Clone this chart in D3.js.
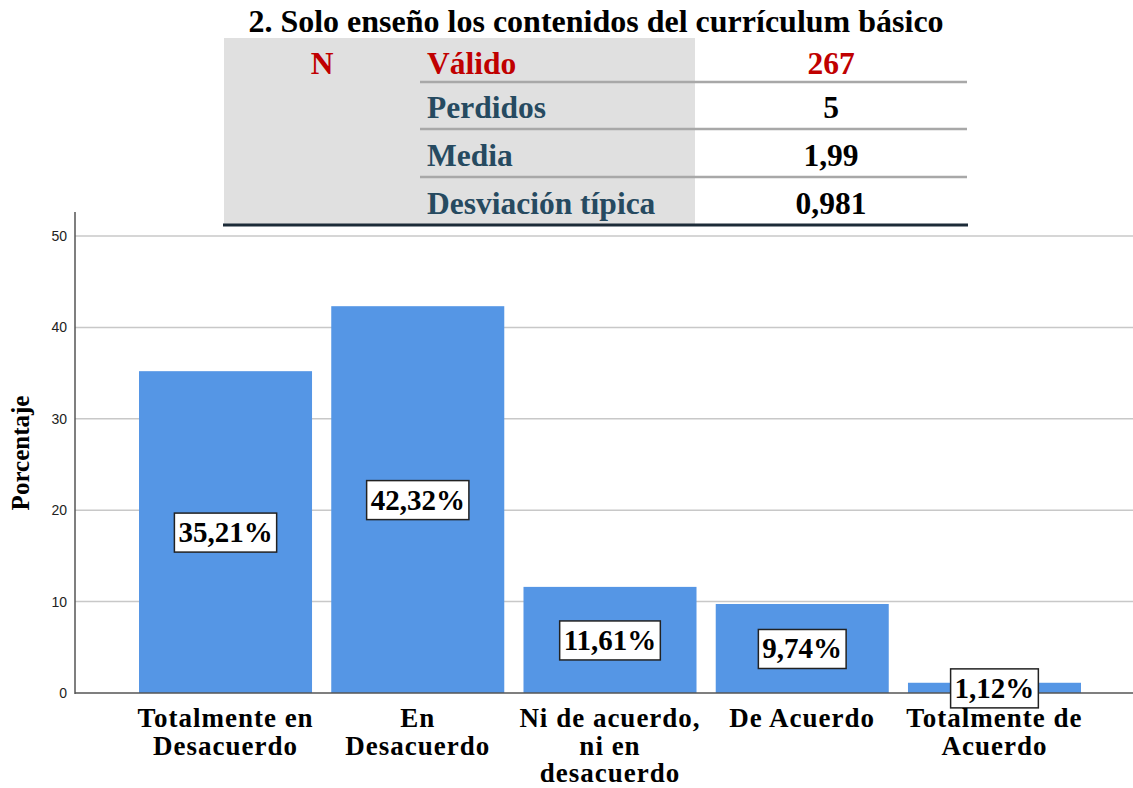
<!DOCTYPE html>
<html><head><meta charset="utf-8">
<script src="https://cdn.jsdelivr.net/npm/d3@7/dist/d3.min.js"></script>
<style>body{margin:0;background:#fff}svg{display:block}</style>
</head><body>
<svg id="c" width="1133" height="788"></svg>
<script>
const title = "2. Solo enseño los contenidos del currículum básico";
const categories = [["Totalmente en","Desacuerdo"],["En","Desacuerdo"],["Ni de acuerdo,","ni en","desacuerdo"],["De Acuerdo"],["Totalmente de","Acuerdo"]];
const values = [35.21, 42.32, 11.61, 9.74, 1.12];
const valueLabels = ["35,21%","42,32%","11,61%","9,74%","1,12%"];
const yTicks = [0,10,20,30,40,50];
const statLabels = ["Válido","Perdidos","Media","Desviación típica"];
const statValues = ["267","5","1,99","0,981"];

const svg = d3.select("#c");
const serif = "'Liberation Serif','Times New Roman',serif";
const sans = "'Liberation Sans',Arial,sans-serif";

// title
svg.append("text").attr("x",596).attr("y",32).attr("text-anchor","middle")
  .attr("font-family",serif).attr("font-weight","bold").attr("font-size",32).text(title);

// table
svg.append("rect").attr("x",224).attr("y",38).attr("width",471).attr("height",187).attr("fill","#e0e0e0");
const rowY = [74,118,166,214];
const sepY = [82,129,177];
sepY.forEach(y=>svg.append("line").attr("x1",420).attr("x2",967).attr("y1",y).attr("y2",y).attr("stroke","#a8a8a8").attr("stroke-width",2.5));
svg.append("line").attr("x1",223).attr("x2",968).attr("y1",225).attr("y2",225).attr("stroke","#1c2b38").attr("stroke-width",3);
svg.append("text").attr("x",322).attr("y",rowY[0]).attr("text-anchor","middle").attr("font-family",serif)
  .attr("font-weight","bold").attr("font-size",31.5).attr("fill","#c00000").text("N");
statLabels.forEach((t,i)=>{
  svg.append("text").attr("x",427).attr("y",rowY[i]).attr("font-family",serif).attr("font-weight","bold")
    .attr("font-size",31.5).attr("fill",i===0?"#c00000":"#264a60").text(t);
  svg.append("text").attr("x",831).attr("y",rowY[i]).attr("text-anchor","middle").attr("font-family",serif).attr("font-weight","bold")
    .attr("font-size",31.5).attr("fill",i===0?"#c00000":"#000").text(statValues[i]);
});

// chart
const y = d3.scaleLinear().domain([0,50]).range([693,236]);
const x = d3.scaleBand().domain(d3.range(values.length)).range([129.4,1090.6]).paddingInner(0.1).paddingOuter(0.05);

const g = svg.append("g");
yTicks.forEach(t=>{
  if(t>0) g.append("line").attr("x1",75).attr("x2",1133).attr("y1",y(t)).attr("y2",y(t)).attr("stroke","#c8c8c8").attr("stroke-width",1.5);
});
const yAxis = d3.axisLeft(y).tickValues(yTicks).tickSize(0).tickPadding(8);
const ya = svg.append("g").attr("transform","translate(75,0)").call(yAxis);
ya.select(".domain").remove();
ya.selectAll("text").attr("font-family",sans).attr("font-size",14).attr("fill","#222");

g.selectAll("rect.bar").data(values).join("rect").attr("class","bar")
  .attr("x",(d,i)=>x(i)).attr("width",x.bandwidth()).attr("y",d=>y(d)).attr("height",d=>y(0)-y(d))
  .attr("fill","#5596e5");

svg.append("line").attr("x1",75).attr("x2",75).attr("y1",212).attr("y2",694).attr("stroke","#555").attr("stroke-width",1.5);
svg.append("line").attr("x1",75).attr("x2",1133).attr("y1",693).attr("y2",693).attr("stroke","#555").attr("stroke-width",1.5);

// value labels
values.forEach((v,i)=>{
  const cx = x(i)+x.bandwidth()/2, cy = (y(v)+y(0))/2;
  const lg = svg.append("g");
  const t = lg.append("text").attr("x",cx).attr("y",cy+10).attr("text-anchor","middle")
    .attr("font-family",serif).attr("font-weight","bold").attr("font-size",29).text(valueLabels[i]);
  const bb = t.node().getBBox();
  lg.insert("rect","text").attr("x",cx-bb.width/2-4).attr("y",cy-19).attr("width",bb.width+8).attr("height",39)
    .attr("fill","#fff").attr("stroke","#222").attr("stroke-width",1.5);
});

// x labels
categories.forEach((lines,i)=>{
  const cx = x(i)+x.bandwidth()/2;
  const t = svg.append("text").attr("text-anchor","middle").attr("font-family",serif).attr("font-weight","bold")
    .attr("font-size",27).attr("fill","#000").attr("letter-spacing",1);
  lines.forEach((l,j)=>t.append("tspan").attr("x",cx).attr("y",727+j*27.5).text(l));
});

// y title
svg.append("text").attr("transform","translate(29,453) rotate(-90)").attr("text-anchor","middle")
  .attr("font-family",serif).attr("font-weight","bold").attr("font-size",25).text("Porcentaje");
</script>
</body></html>
